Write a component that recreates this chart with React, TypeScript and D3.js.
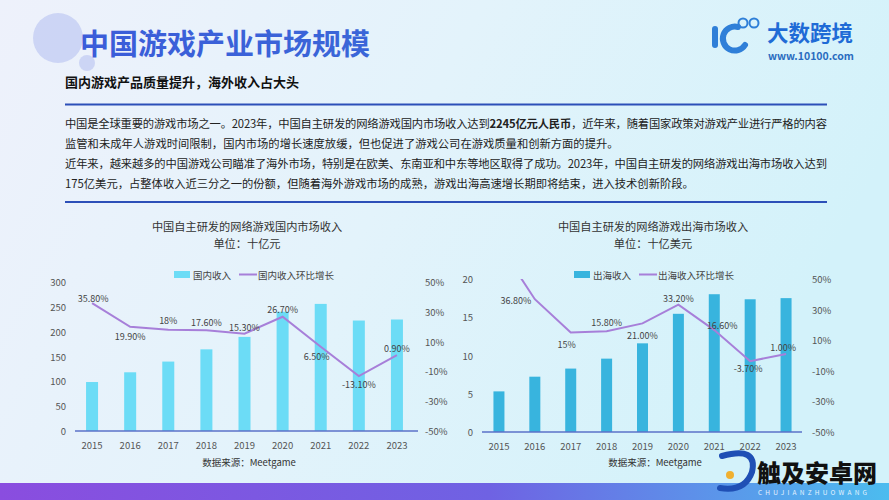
import React from 'react';
import * as d3 from 'd3';

const YEARS = ['2015', '2016', '2017', '2018', '2019', '2020', '2021', '2022', '2023'];
const DOMESTIC_REVENUE = [98.6, 118.2, 139.8, 164.4, 189.5, 240.1, 255.9, 222.4, 224.5];
const DOMESTIC_GROWTH = [35.8, 19.9, 18, 17.6, 15.3, 26.7, 6.5, -13.1, 0.9];
const DOMESTIC_GROWTH_LABELS = ['35.80%', '19.90%', '18%', '17.60%', '15.30%', '26.70%', '6.50%', '-13.10%', '0.90%'];
const OVERSEAS_REVENUE = [5.31, 7.23, 8.29, 9.59, 11.59, 15.45, 18.01, 17.35, 17.5];
const OVERSEAS_GROWTH = [72.5, 36.8, 15, 15.8, 21, 33.2, 16.6, -3.7, 1.0];
const OVERSEAS_GROWTH_LABELS = ['', '36.80%', '15%', '15.80%', '21.00%', '33.20%', '16.60%', '-3.70%', '1.00%'];
const DOMESTIC_TICKS = [0, 50, 100, 150, 200, 250, 300];
const OVERSEAS_TICKS = [0, 5, 10, 15, 20];
const PCT_TICKS = [-50, -30, -10, 10, 30, 50];

const FONT = '"Noto Sans CJK SC", "Noto Sans", sans-serif';
const W = 889;
const H = 500;

type ChartProps = {
  id: string;
  title: string;
  unit: string;
  barName: string;
  lineName: string;
  barColor: string;
  revenue: number[];
  growth: number[];
  growthLabels: string[];
  ticks: number[];
  yMax: number;
  xRange: [number, number];
  baseX: [number, number];
  yTop: number;
  yBottom: number;
  leftLabelX: number;
  rightLabelX: number;
  barWidth: number;
  centerX: number;
  legendX: number;
  labelOffsets: [number, number][];
};

function Chart(p: ChartProps) {
  const x = d3.scalePoint<string>().domain(YEARS).range(p.xRange).padding(0.5);
  const y = d3.scaleLinear().domain([0, p.yMax]).range([p.yBottom, p.yTop]);
  const yp = d3.scaleLinear().domain([-50, 50]).range([p.yBottom, p.yTop]);
  const line = d3
    .line<number>()
    .x((_, i) => x(YEARS[i]) as number)
    .y((d) => yp(d));
  const lineColor = '#a77fd9';
  const textColor = '#555';
  return (
    <g fontFamily={FONT}>
      <defs>
        <clipPath id={p.id + '-clip'}>
          <rect x={p.baseX[0]} y={p.yTop} width={p.baseX[1] - p.baseX[0]} height={p.yBottom - p.yTop + 2} />
        </clipPath>
      </defs>
      <text x={p.centerX} y={226} textAnchor="middle" dominantBaseline="central" fontSize={11.2} fill="#333">
        {p.title}
      </text>
      <text x={p.centerX} y={243} textAnchor="middle" dominantBaseline="central" fontSize={11.2} fill="#333">
        {p.unit}
      </text>
      {/* legend */}
      <rect x={p.legendX} y={271} width={16} height={7} fill={p.barColor} />
      <text x={p.legendX + 19} y={274.5} dominantBaseline="central" fontSize={9.5} fill="#444">
        {p.barName}
      </text>
      <line x1={p.legendX + 65} x2={p.legendX + 83} y1={274.5} y2={274.5} stroke={lineColor} strokeWidth={2} />
      <text x={p.legendX + 84} y={274.5} dominantBaseline="central" fontSize={9.5} fill="#444">
        {p.lineName}
      </text>
      {/* left axis labels */}
      {p.ticks.map((t) => (
        <text key={'l' + t} x={p.leftLabelX} y={y(t)} textAnchor="end" dominantBaseline="central" fontSize={9.5} fill={textColor}>
          {t}
        </text>
      ))}
      {PCT_TICKS.map((t) => (
        <text key={'r' + t} x={p.rightLabelX} y={yp(t)} dominantBaseline="central" fontSize={9.5} fill={textColor}>
          {t + '%'}
        </text>
      ))}
      {/* bars */}
      {p.revenue.map((v, i) => (
        <rect
          key={'b' + i}
          x={(x(YEARS[i]) as number) - p.barWidth / 2}
          y={y(v)}
          width={p.barWidth}
          height={p.yBottom - y(v)}
          fill={p.barColor}
        />
      ))}
      {/* baseline */}
      <line x1={p.baseX[0]} x2={p.baseX[1]} y1={p.yBottom} y2={p.yBottom} stroke="#5b72c9" strokeWidth={1.5} />
      {YEARS.map((yr) => (
        <text key={'x' + yr} x={x(yr)} y={p.yBottom + 14} textAnchor="middle" dominantBaseline="central" fontSize={9.5} fill={textColor}>
          {yr}
        </text>
      ))}
      {/* line */}
      <path d={line(p.growth) || ''} fill="none" stroke={lineColor} strokeWidth={2} clipPath={`url(#${p.id}-clip)`} />
      {p.growthLabels.map((lab, i) =>
        lab ? (
          <text
            key={'g' + i}
            x={(x(YEARS[i]) as number) + p.labelOffsets[i][0]}
            y={yp(p.growth[i]) + p.labelOffsets[i][1]}
            textAnchor="middle"
            dominantBaseline="central"
            fontSize={9}
            fill="#444"
          >
            {lab}
          </text>
        ) : null
      )}
      <text x={p.centerX + 2} y={462} textAnchor="middle" dominantBaseline="central" fontSize={9.5} fill="#333">
        数据来源：Meetgame
      </text>
    </g>
  );
}

export default function App() {
  const para = { fontSize: 11.3, fill: '#222' };
  return (
    <svg width={W} height={H} style={{ position: 'absolute', left: 0, top: 0 }} fontFamily={FONT}>
      <defs>
        <linearGradient id="bg" x1="0" y1="0" x2="1" y2="0.3">
          <stop offset="0" stopColor="#eef1fb" />
          <stop offset="0.5" stopColor="#e3f3fb" />
          <stop offset="1" stopColor="#d3f2fa" />
        </linearGradient>
        <linearGradient id="band" x1="0" y1="0" x2="1" y2="0">
          <stop offset="0" stopColor="#8a4ddf" />
          <stop offset="0.55" stopColor="#6f62e3" />
          <stop offset="1" stopColor="#4cbcef" />
        </linearGradient>
        <linearGradient id="titleGrad" x1="0" y1="0" x2="1" y2="0">
          <stop offset="0" stopColor="#3b5cd9" />
          <stop offset="1" stopColor="#3a66d8" />
        </linearGradient>
      </defs>
      <rect x={0} y={0} width={W} height={H} fill="url(#bg)" />
      {/* decorative circles */}
      <circle cx={58} cy={38} r={25} fill="#c9d2f4" opacity={0.9} />
      <circle cx={87} cy={63} r={8} fill="#c9d2f4" opacity={0.9} />
      <text x={80} y={42} dominantBaseline="central" fontSize={29} fontWeight={700} fill="url(#titleGrad)">
        中国游戏产业市场规模
      </text>
      {/* logo */}
      <g>
        <rect x={712} y={26} width={6} height={22} rx={3} fill="#2f7fd8" />
        <path d="M738,27 A 12 12 0 1 0 745 45" fill="none" stroke="#2f7fd8" strokeWidth={6} strokeLinecap="round" />
        <circle cx={743} cy={23} r={4.5} fill="none" stroke="#2f7fd8" strokeWidth={2} />
        <circle cx={754} cy={23} r={4.5} fill="none" stroke="#2f7fd8" strokeWidth={2} />
        <text x={767} y={31} dominantBaseline="central" fontSize={21.5} fontWeight={700} fill="#1f6bd6">
          大数跨境
        </text>
        <text x={768} y={55} dominantBaseline="central" fontSize={10.5} fontWeight={700} fill="#2a6cc0">
          www.10100.com
        </text>
      </g>
      <text x={65} y={81} dominantBaseline="central" fontSize={13} fontWeight={700} fill="#111">
        国内游戏产品质量提升，海外收入占大头
      </text>
      <line x1={65} x2={827} y1={104.5} y2={104.5} stroke="#2c4fb8" strokeWidth={2} />
      <text x={65} y={122.5} dominantBaseline="central" {...para} textLength={762} lengthAdjust="spacing">
        中国是全球重要的游戏市场之一。2023年，中国自主研发的网络游戏国内市场收入达到
        <tspan fontWeight={700}>2245亿元人民币</tspan>，近年来，随着国家政策对游戏产业进行严格的内容
      </text>
      <text x={65} y={143} dominantBaseline="central" {...para}>
        监管和未成年人游戏时间限制，国内市场的增长速度放缓，但也促进了游戏公司在游戏质量和创新方面的提升。
      </text>
      <text x={65} y={163} dominantBaseline="central" {...para} textLength={762} lengthAdjust="spacing">
        近年来，越来越多的中国游戏公司瞄准了海外市场，特别是在欧美、东南亚和中东等地区取得了成功。2023年，中国自主研发的网络游戏出海市场收入达到
      </text>
      <text x={65} y={183} dominantBaseline="central" {...para}>
        175亿美元，占整体收入近三分之一的份额，但随着海外游戏市场的成熟，游戏出海高速增长期即将结束，进入技术创新阶段。
      </text>
      <line x1={65} x2={827} y1={202} y2={202} stroke="#2c4fb8" strokeWidth={2} />

      <Chart
        id="dom"
        title="中国自主研发的网络游戏国内市场收入"
        unit="单位：十亿元"
        barName="国内收入"
        lineName="国内收入环比增长"
        barColor="#6cdcf6"
        revenue={DOMESTIC_REVENUE}
        growth={DOMESTIC_GROWTH}
        growthLabels={DOMESTIC_GROWTH_LABELS}
        ticks={DOMESTIC_TICKS}
        yMax={300}
        xRange={[73, 416]}
        baseX={[75, 418]}
        yTop={282}
        yBottom={431}
        leftLabelX={66}
        rightLabelX={425}
        barWidth={12}
        centerX={247}
        legendX={174}
        labelOffsets={[[1, -5], [0, 10], [0, -9], [0, -8], [0, -6], [0, -7], [-4, 10], [0, 8], [0, -7]]}
      />
      <Chart
        id="ovs"
        title="中国自主研发的网络游戏出海市场收入"
        unit="单位：十亿美元"
        barName="出海收入"
        lineName="出海收入环比增长"
        barColor="#38b4de"
        revenue={OVERSEAS_REVENUE}
        growth={OVERSEAS_GROWTH}
        growthLabels={OVERSEAS_GROWTH_LABELS}
        ticks={OVERSEAS_TICKS}
        yMax={20}
        xRange={[481, 804]}
        baseX={[482, 802]}
        yTop={279}
        yBottom={432}
        leftLabelX={473}
        rightLabelX={812}
        barWidth={11}
        centerX={653}
        legendX={574}
        labelOffsets={[[0, 0], [-19, 1], [-4, 12], [0, -9], [0, 12], [0, -6], [8, -5], [-2, 7], [-3, -6]]}
      />

      {/* bottom band */}
      <rect x={0} y={483} width={W} height={17} fill="url(#band)" />
      {/* watermark */}
      <g>
        <path d="M722,456 Q758,446 752,472 Q745,492 720,488" fill="none" stroke="#1f4fb5" strokeWidth={6} strokeLinecap="round" />
        <circle cx={730} cy={475} r={4} fill="#f0b030" />
        <text x={757} y={471} dominantBaseline="central" fontSize={24} fontWeight={900} fill="#111">
          触及安卓网
        </text>
        <text x={758} y={492} dominantBaseline="central" fontSize={6.5} fill="#e8f4ff" letterSpacing={3.2}>
          CHUJIANZHUOWANG
        </text>
      </g>
    </svg>
  );
}
